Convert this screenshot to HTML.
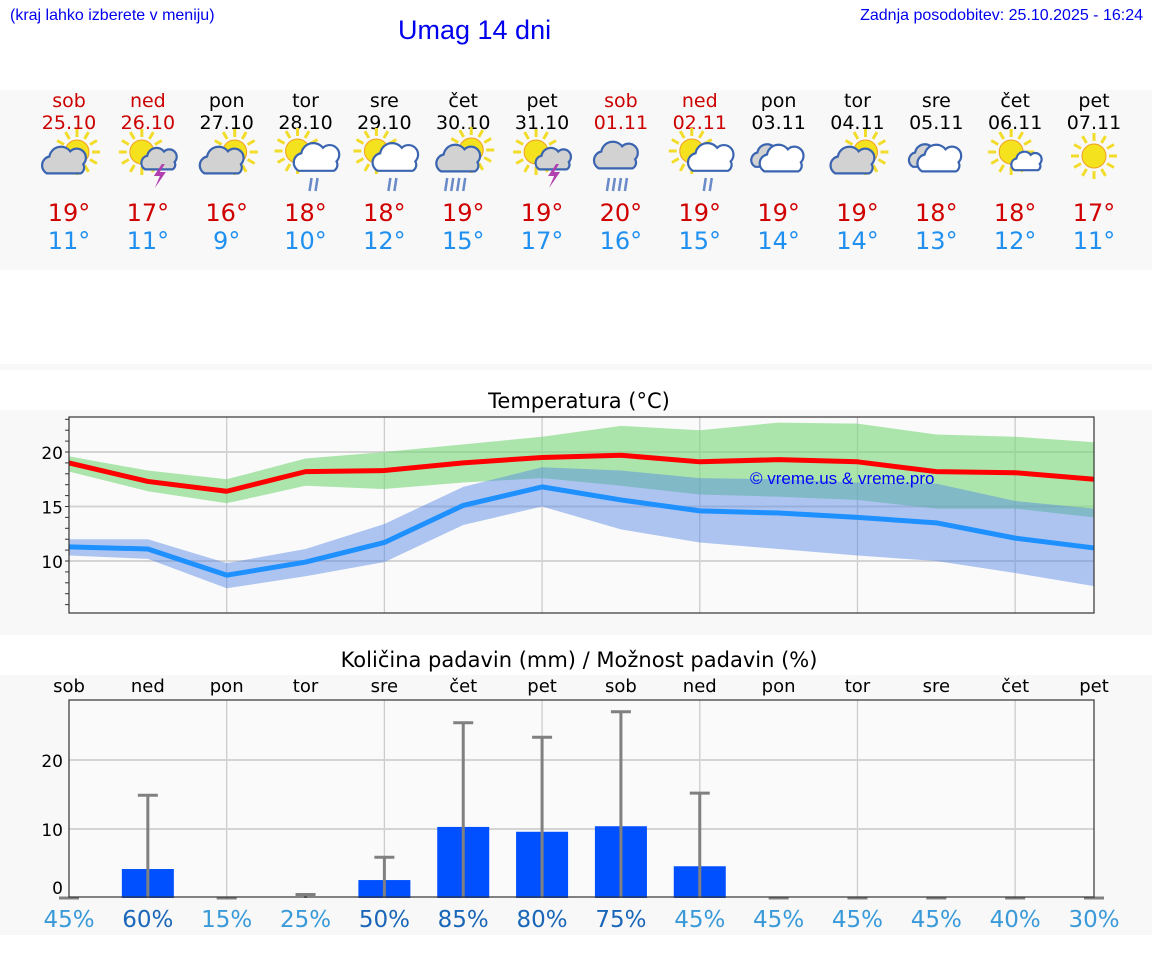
<!DOCTYPE html>
<html><head><meta charset="utf-8">
<style>
body{margin:0;width:1152px;height:975px;background:#fff;position:relative;overflow:hidden;font-family:"DejaVu Sans","Liberation Sans",sans-serif}
.abs{position:absolute}
.band{position:absolute;left:0;width:1152px;background:#f8f8f8}
</style></head><body>
<div class="abs" style="left:10px;top:7px;font:16px 'Liberation Sans',sans-serif;color:#0000ee">(kraj lahko izberete v meniju)</div>
<div class="abs" style="left:398px;top:15px;font:27px 'Liberation Sans',sans-serif;color:#0000ee">Umag 14 dni</div>
<div class="abs" style="right:9px;top:7px;font:16px 'Liberation Sans',sans-serif;color:#0000ee">Zadnja posodobitev: 25.10.2025 - 16:24</div>
<div class="band" style="top:90px;height:180px"></div>
<div class="band" style="top:364px;height:6px"></div>
<div class="band" style="top:410px;height:225px"></div>
<div class="band" style="top:675px;height:260px"></div>
<svg id="svg" width="1152" height="975" class="abs" style="left:0;top:0"></svg>
<script>
const days=["sob","ned","pon","tor","sre","čet","pet","sob","ned","pon","tor","sre","čet","pet"];
const dates=["25.10","26.10","27.10","28.10","29.10","30.10","31.10","01.11","02.11","03.11","04.11","05.11","06.11","07.11"];
const weekend=[1,1,0,0,0,0,0,1,1,0,0,0,0,0];
const icons=["pc","st","pc","sr","sr","cr","st","r","sr","c","pc","c","sc","s"];
const hiT=[19,17,16,18,18,19,19,20,19,19,19,18,18,17];
const loT=[11,11,9,10,12,15,17,16,15,14,14,13,12,11];
const maxLine=[19.0,17.3,16.4,18.2,18.3,19.0,19.5,19.7,19.1,19.3,19.1,18.2,18.1,17.5];
const minLine=[11.3,11.1,8.7,9.9,11.7,15.1,16.8,15.6,14.6,14.4,14.0,13.5,12.1,11.2];
const maxHi=[19.6,18.3,17.5,19.4,20.0,20.7,21.4,22.4,22.0,22.7,22.6,21.6,21.4,20.9];
const maxLo=[18.2,16.4,15.3,16.9,16.6,17.2,17.6,16.9,16.1,15.9,15.6,14.8,14.8,14.0];
const minHi=[12.0,12.0,9.8,11.1,13.4,16.8,18.6,18.3,17.6,17.5,17.2,17.1,15.5,14.8];
const minLo=[10.5,10.2,7.5,8.6,9.9,13.3,15.0,12.9,11.7,11.1,10.5,10.0,8.9,7.7];
const tTicks=[10,15,20];
const rain=[0,4.2,0,0,2.6,10.3,9.6,10.4,4.6,0,0,0,0,0];
const rainMax=[0,14.9,0,0.5,5.9,25.4,23.3,27.0,15.2,0,0,0,0,0];
const prob=[45,60,15,25,50,85,80,75,45,45,45,45,40,30];
const pTicks=[0,10,20];
const svg=document.getElementById('svg');
const NS="http://www.w3.org/2000/svg";
function mk(t,a,p){const e=document.createElementNS(NS,t);for(const k in a)e.setAttribute(k,a[k]);(p||svg).appendChild(e);return e;}
function txt(x,y,s,sz,col,anch,name){const e=mk('text',{x:x,y:y,'font-size':sz,fill:col,'text-anchor':anch||'middle','font-family':'DejaVu Sans, sans-serif'});e.textContent=s;return e;}
const X0=69,X1=1094;
const cx=i=>X0+i*(X1-X0)/13;
function sun(g,x,y,r){for(let k=0;k<12;k++){const a=k*Math.PI/6;mk('line',{x1:x+Math.cos(a)*(r+3),y1:y+Math.sin(a)*(r+3),x2:x+Math.cos(a)*(r+11),y2:y+Math.sin(a)*(r+11),stroke:'#f2dc2a','stroke-width':3},g);}mk('circle',{cx:x,cy:y,r:r,fill:'#f5e21e',stroke:'#f0a020','stroke-width':1},g);}
function cloud(g,x,y,s,fill){const p=`M${x-14*s},${y+8*s} a${7*s},${7*s} 0 0 1 ${2*s},${-13*s} a${9*s},${9*s} 0 0 1 ${16*s},${-4*s} a${7*s},${7*s} 0 0 1 ${10*s},${10*s} a${5*s},${5*s} 0 0 1 ${-2*s},${7*s} z`;mk('path',{d:p,fill:fill,stroke:'#3a64b0','stroke-width':2.2},g);}
function rainD(g,x,y,n){for(let k=0;k<n;k++)mk('line',{x1:x+k*6,y1:y,x2:x+k*6-2,y2:y+13,stroke:'#6a8ac8','stroke-width':2.5},g);}
function bolt(g,x,y){mk('path',{d:`M${x+4},${y} l-8,12 h6 l-5,12 l11,-16 h-6 l5,-8 z`,fill:'#b040b0'},g);}
for(let i=0;i<14;i++){
  const x=cx(i),col=weekend[i]?'#cc0000':'#000';
  txt(x,107,days[i],19,col,'middle','day-label-'+i);
  txt(x,129,dates[i],19,col,'middle','date-label-'+i);
  const g=mk('g',{});
  const t=icons[i],y=156;
  if(t=='pc'){sun(g,x+8,y-4,12);cloud(g,x-4,y+7,1.3,'#d2d2d2');}
  else if(t=='st'){sun(g,x-6,y-4,12);cloud(g,x+12,y+5,1.05,'#d2d2d2');bolt(g,x+10,y+8);}
  else if(t=='sr'){sun(g,x-8,y-5,12);cloud(g,x+12,y+4,1.35,'#fff');rainD(g,x+6,y+22,2);}
  else if(t=='cr'){sun(g,x+8,y-6,12);cloud(g,x-4,y+5,1.3,'#d2d2d2');rainD(g,x-16,y+22,4);}
  else if(t=='r'){cloud(g,x-4,y+2,1.3,'#d2d2d2');rainD(g,x-12,y+22,4);}
  else if(t=='c'){cloud(g,x-8,y+2,1.1,'#d2d2d2');cloud(g,x+4,y+5,1.3,'#fff');}
  else if(t=='sc'){sun(g,x-4,y-4,12);cloud(g,x+12,y+7,0.9,'#fff');}
  else {sun(g,x,y,12);}
  txt(x,221,hiT[i]+'°',24,'#d00000','middle','max-temp-'+i);
  txt(x,249,loT[i]+'°',24,'#2090f0','middle','min-temp-'+i);
}
const TY0=417,TY1=613;
const ty=v=>452-(v-20)*10.9;
txt(579,408,'Temperatura (°C)',21,'#000','middle','temp-chart-title');
mk('rect',{x:X0,y:TY0,width:X1-X0,height:TY1-TY0,fill:'#fafafa'});
for(let i=2;i<14;i+=2)mk('line',{x1:cx(i),y1:TY0,x2:cx(i),y2:TY1,stroke:'#ccc','stroke-width':1.3});
tTicks.forEach(v=>{mk('line',{x1:X0,y1:ty(v),x2:X1,y2:ty(v),stroke:'#d4d4d4','stroke-width':2});txt(63,ty(v)+7,String(v),17,'#000','end','temp-tick-'+v);});
for(let v=6;v<=23;v++)mk('line',{x1:X0-4,y1:ty(v),x2:X0,y2:ty(v),stroke:'#333','stroke-width':1});
function band(hi,lo,fill,name){let d='';hi.forEach((v,i)=>d+=(i?'L':'M')+cx(i)+','+ty(v));for(let i=lo.length-1;i>=0;i--)d+='L'+cx(i)+','+ty(lo[i]);const e=mk('path',{d:d+'Z',fill:fill});}
band(maxHi,maxLo,'rgba(120,215,120,0.6)','max-temp-range');
band(minHi,minLo,'rgba(80,130,230,0.45)','min-temp-range');
function line(a,col,name){const e=mk('polyline',{points:a.map((v,i)=>cx(i)+','+ty(v)).join(' '),fill:'none',stroke:col,'stroke-width':5,'stroke-linejoin':'round'});}
line(maxLine,'#ff0000','max-temp-line');
line(minLine,'#1e90ff','min-temp-line');
const w=txt(750,484,'© vreme.us & vreme.pro',17,'#0000ff','start','watermark');w.setAttribute('font-family','Liberation Sans, sans-serif');
mk('rect',{x:X0,y:TY0,width:X1-X0,height:TY1-TY0,fill:'none',stroke:'#333','stroke-width':1.2});
const PY0=700,PY1=897;
const py=v=>898-v*6.9;
txt(579,667,'Količina padavin (mm) / Možnost padavin (%)',21,'#000','middle','precip-chart-title');
for(let i=0;i<14;i++)txt(cx(i),692,days[i],18,'#000','middle','precip-day-'+i);
mk('rect',{x:X0,y:PY0,width:X1-X0,height:PY1-PY0,fill:'#fafafa'});
for(let i=2;i<14;i+=2)mk('line',{x1:cx(i),y1:PY0,x2:cx(i),y2:PY1,stroke:'#ccc','stroke-width':1.3});
pTicks.forEach(v=>{if(v)mk('line',{x1:X0,y1:py(v),x2:X1,y2:py(v),stroke:'#d4d4d4','stroke-width':2});txt(63,py(v)+(v?7:-4),String(v),17,'#000','end','precip-tick-'+v);});
for(let i=0;i<14;i++){
  const x=cx(i);
  if(rain[i]>0){const b=mk('rect',{x:x-26,y:py(rain[i]),width:52,height:py(0)-py(rain[i]),fill:'#0050ff'});}
  const g=mk('g',{stroke:'#808080','stroke-width':3});
  mk('line',{x1:x,y1:py(0),x2:x,y2:py(rainMax[i])},g);
  mk('line',{x1:x-10,y1:py(rainMax[i]),x2:x+10,y2:py(rainMax[i])},g);
  const dark=prob[i]>=50;
  txt(x,927,prob[i]+'%',23,dark?'#1a66b8':'#3a9ad9','middle','precip-prob-'+i);
}
mk('rect',{x:X0,y:PY0,width:X1-X0,height:PY1-PY0,fill:'none',stroke:'#333','stroke-width':1.2});
</script>
</body></html>
